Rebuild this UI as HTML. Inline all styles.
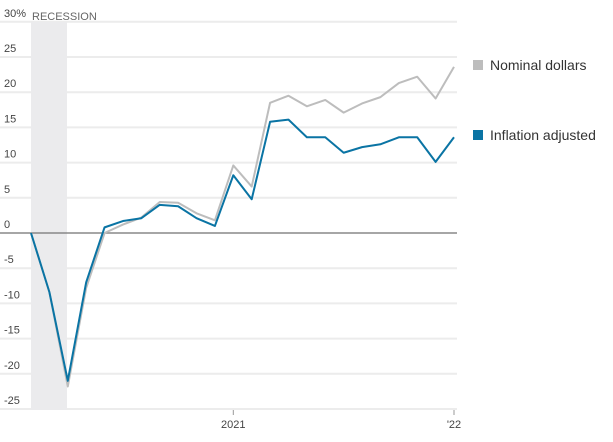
<!DOCTYPE html>
<html><head><meta charset="utf-8"><style>
body{margin:0;background:#fff;font-family:"Liberation Sans",sans-serif}
svg text{font-family:"Liberation Sans",sans-serif}
</style></head><body>
<svg width="613" height="437">
<g id="grid"></g>
<rect x="31" y="22" width="36" height="388" fill="#ebebed"/>
<text x="32" y="20" font-size="11" fill="#666">RECESSION</text>
<g id="ylabels"></g>
<g id="xlabels"></g>
<g id="lines"></g>
<rect x="473" y="60" width="10" height="10" fill="#bdbdbd"/>
<text x="490" y="70" font-size="14" fill="#333">Nominal dollars</text>
<rect x="473" y="130" width="10" height="10" fill="#0a74a4"/>
<text x="490" y="140" font-size="14" fill="#333">Inflation adjusted</text>
</svg>
<script>
const yTicks=[30,25,20,15,10,5,0,-5,-10,-15,-20,-25];
const yTickLabels=["30%","25","20","15","10","5","0","-5","-10","-15","-20","-25"];
const xTickIdx=[11,23];
const xTickLabels=["2021","'22"];
const nominal=[0,-8.4,-21.8,-7.8,0,1.2,2.2,4.4,4.3,2.8,1.8,9.6,6.6,18.5,19.5,18.0,18.9,17.1,18.4,19.3,21.3,22.2,19.1,23.6];
const adjusted=[0,-8.4,-21,-7,0.8,1.7,2.1,4.0,3.8,2.1,1.0,8.2,4.8,15.8,16.1,13.6,13.6,11.4,12.2,12.6,13.6,13.6,10.1,13.6];
const NS="http://www.w3.org/2000/svg";
const y=v=>233-v*7.04;
const x=i=>31+i*(454-31)/23;
function mk(t,a,p){const e=document.createElementNS(NS,t);for(const k in a)e.setAttribute(k,a[k]);document.getElementById(p).appendChild(e);return e;}
yTicks.forEach((v,i)=>{
  if(v!==0){const l=mk('line',{x1:0,x2:457,y1:y(v),y2:y(v),stroke:'#ececec','stroke-width':2},'grid');
  
  }
  const t=mk('text',{x:4,y:y(v)-5,'font-size':11,fill:'#444'},'ylabels');t.textContent=yTickLabels[i];
  
  
});
xTickIdx.forEach((d,i)=>{
  const tk=mk('line',{x1:x(d),x2:x(d),y1:410,y2:415,stroke:'#999'},'xlabels');
  
  
  const t=mk('text',{x:x(d),y:428,'font-size':11,fill:'#444','text-anchor':'middle'},'xlabels');t.textContent=xTickLabels[i];
  
  
});
const z=mk('line',{x1:0,x2:457,y1:y(0),y2:y(0),stroke:'#888','stroke-width':1.5},'lines');


[[nominal,'#bdbdbd','nominal-line'],[adjusted,'#0a74a4','inflation-adjusted-line']].forEach(([s,c,n])=>{
  const p=mk('polyline',{points:s.map((v,i)=>x(i)+','+y(v)).join(' '),fill:'none',stroke:c,'stroke-width':2,'stroke-linejoin':'round'},'lines');
  
  
});
</script>
</body></html>
